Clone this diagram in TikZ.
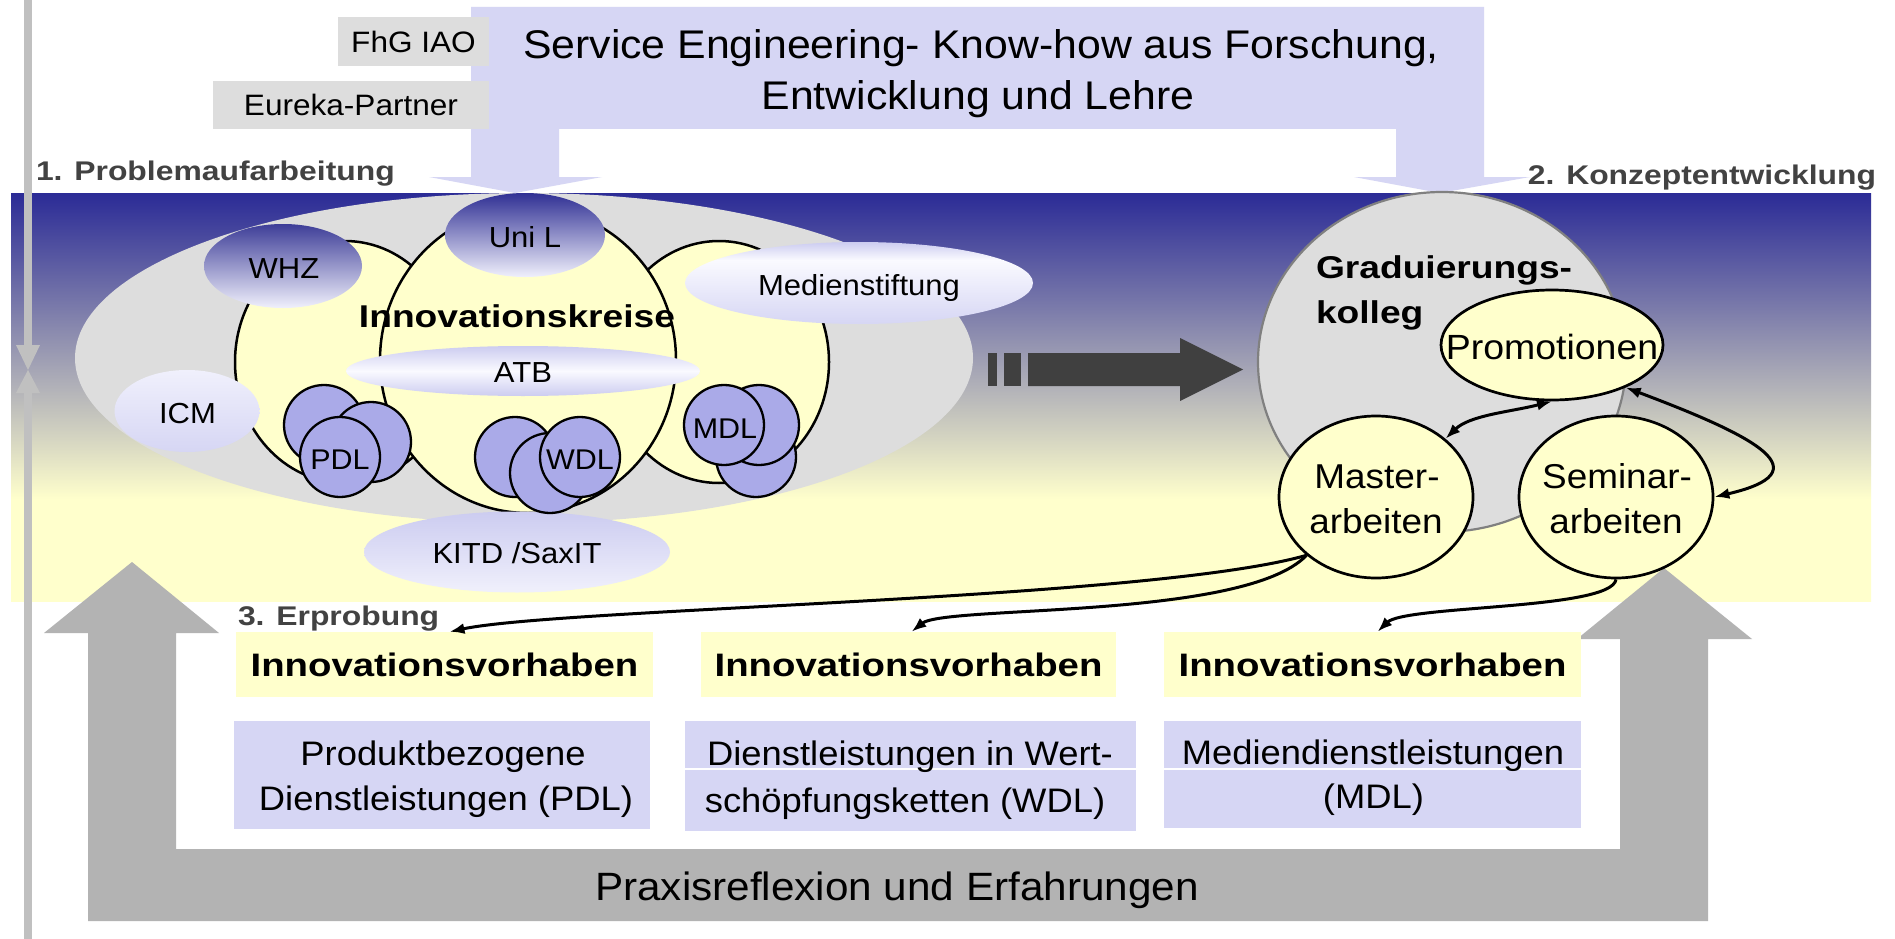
\documentclass[tikz,border=0pt]{standalone}
\usepackage{fontspec}
\setmainfont{Liberation Sans}[FakeStretch=1.07]
\newfontfamily\widefont{Liberation Sans}[FakeStretch=1.18]
\usetikzlibrary{shapes.geometric,arrows.meta}
\definecolor{lav}{RGB}{214,214,244}
\definecolor{lavA}{RGB}{204,204,240}
\definecolor{lavB}{RGB}{214,214,244}
\definecolor{whiteL}{RGB}{250,250,255}
\definecolor{satwhite}{RGB}{240,240,252}
\definecolor{satnavy}{RGB}{48,48,148}
\definecolor{satnavy2}{RGB}{62,62,152}
\definecolor{gry}{RGB}{221,221,221}
\definecolor{yel}{RGB}{255,255,204}
\definecolor{blu}{RGB}{170,170,232}
\definecolor{ugray}{RGB}{179,179,179}
\definecolor{lgray}{RGB}{192,192,192}
\definecolor{darkarr}{RGB}{64,64,64}
\definecolor{navy}{RGB}{43,43,150}
\definecolor{headgray}{RGB}{66,66,66}
\definecolor{circgray}{RGB}{128,128,128}
\pgfdeclareverticalshading{bandshade}{100bp}{color(0bp)=(yel); color(37.5bp)=(yel); color(75bp)=(navy); color(100bp)=(navy)}
\pgfdeclareverticalshading{medshade}{100bp}{color(0bp)=(lavB); color(25bp)=(lavB); color(64bp)=(whiteL); color(75bp)=(lavA); color(100bp)=(lavA)}
\pgfdeclareverticalshading{atbshade}{100bp}{color(0bp)=(lavA); color(25bp)=(lavA); color(50bp)=(whiteL); color(75bp)=(lavA); color(100bp)=(lavA)}
\newcommand\fsz[1]{\fontsize{#1pt}{#1pt}\selectfont}
\begin{document}
\begin{tikzpicture}[x=1pt,y=-1pt,
  txt/.style={inner sep=0pt, outer sep=0pt, text=black},
  satfont/.style={txt, font=\fsz{29}},
  smallc/.style={txt, font=\fsz{28.5}},
  headfont/.style={txt, text=headgray, font=\widefont\bfseries\fsz{27}},
  bigbold/.style={txt, font=\widefont\bfseries\fsz{31.5}},
  circfont/.style={txt, font=\fsz{34.5}},
  descfont/.style={txt, font=\fsz{34}},
  sat/.style={ellipse, inner sep=0pt, outer sep=0pt},
  yell/.style={ellipse, inner sep=0pt, fill=yel, draw=black, line width=2.5pt},
  bcirc/.style={circle, inner sep=0pt, minimum size=80pt, fill=blu, draw=black, line width=2.3pt},
  graybox/.style={rectangle, inner sep=0pt, fill=gry, font=\fsz{29.5}},
  ivbox/.style={rectangle, inner sep=0pt, fill=yel, minimum height=65pt, font=\widefont\bfseries\fsz{32.5}},
  dbox/.style={rectangle, inner sep=0pt, fill=lav},
  arr/.style={line width=3pt, -{Latex[length=15pt,width=11pt]}},
  darr/.style={line width=3pt, {Latex[length=15pt,width=11pt]}-{Latex[length=15pt,width=11pt]}}
]
\useasboundingbox (0,0) rectangle (1895,939);
\fill[white] (0,0) rectangle (1895,939);
% band
\fill[shading=bandshade] (11,193) rectangle (1871,601);
% left vertical line with double arrow
\fill[lgray] (24,0) rectangle (32,345);
\fill[lgray] (16,345) -- (40,345) -- (28,370) -- cycle;
\fill[lgray] (16,393) -- (40,393) -- (28,370) -- cycle;
\fill[lgray] (24,393) rectangle (32,939);
% top lavender box with two arrows
\fill[lav] (471,7) -- (1484,7) -- (1484,177) -- (1530,177) -- (1440,193) -- (1354,177) -- (1396,177) -- (1396,129) -- (559,129) -- (559,177) -- (602,177) -- (515,193) -- (429,177) -- (471,177) -- cycle;
\node[txt, font=\fsz{40}, anchor=base] (se1) at (981,59) {Service Engineering- Know-how aus Forschung,};
\node[txt, font=\fsz{40}, anchor=base] (se2) at (978,110) {Entwicklung und Lehre};
\node[graybox, minimum width=151pt, minimum height=49pt] (fhg) at (413.5,41.5) {FhG IAO};
\node[graybox, minimum width=276pt, minimum height=48pt] (eur) at (351,105) {Eureka-Partner};
% headings
\node[headfont, anchor=base west] (h1) at (36,180) {1. Problemaufarbeitung};
\node[headfont, anchor=base east] (h2) at (1876,184) {2. Konzeptentwicklung};
\node[headfont, anchor=base west] (h3) at (238,625) {3. Erprobung};
% innovation circles
\node[sat, minimum width=898pt, minimum height=330pt, fill=gry] (bige) at (524,358) {};
\node[yell, minimum width=220pt, minimum height=242pt] (ky1) at (345,362) {};
\node[yell, minimum width=220pt, minimum height=242pt] (ky3) at (719,362) {};
\node[yell, minimum width=296pt, minimum height=306pt] (ky2) at (528,360) {};
\node[sat, minimum width=160pt, minimum height=84pt, top color=satnavy, bottom color=satwhite] (unil) at (525,235) {};
\node[sat, minimum width=158pt, minimum height=84pt, top color=satnavy2, bottom color=satwhite] (whz) at (283,266) {};
\node[sat, minimum width=348pt, minimum height=82pt, shading=medshade] (med) at (859,283) {};
\node[sat, minimum width=354pt, minimum height=50pt, shading=atbshade] (atb) at (523,371) {};
\node[sat, minimum width=145pt, minimum height=82pt, top color=satwhite, bottom color=lavB] (icm) at (187,411) {};
\node[sat, minimum width=306pt, minimum height=81pt, top color=lavA, bottom color=satwhite] (kitd) at (517,552) {};
\node[satfont, anchor=base] (tunil) at (525,247) {Uni L};
\node[satfont, anchor=base] (twhz) at (284,278) {WHZ};
\node[satfont, anchor=base] (tmed) at (859,295) {Medienstiftung};
\node[satfont, anchor=base] (tatb) at (523,382) {ATB};
\node[satfont, anchor=base] (ticm) at (187.5,423) {ICM};
\node[satfont, anchor=base] (tkitd) at (517,563) {KITD /SaxIT};
% blue clusters
\node[bcirc] (p1) at (324,425) {};
\node[bcirc] (p2) at (371,442) {};
\node[bcirc] (p3) at (340,457) {};
\node[bcirc] (w1) at (515,457) {};
\node[bcirc] (w2) at (550,473) {};
\node[bcirc] (w3) at (580,457) {};
\node[bcirc] (m1) at (756,457) {};
\node[bcirc] (m2) at (759,425) {};
\node[bcirc] (m3) at (724,425) {};
\node[smallc, anchor=base] (tpdl) at (340,469) {PDL};
\node[smallc, anchor=base] (twdl) at (580,469) {WDL};
\node[smallc, anchor=base] (tmdl) at (725,438) {MDL};
\node[bigbold, anchor=base] (tik) at (517,327) {Innovationskreise};
% dark arrow
\fill[darkarr] (988,353) rectangle (997,386);
\fill[darkarr] (1004,353) rectangle (1021,386);
\fill[darkarr] (1028,353) -- (1180,353) -- (1180,338) -- (1243,369.5) -- (1180,401) -- (1180,386) -- (1028,386) -- cycle;
% Graduierungskolleg
\node[ellipse, inner sep=0pt, minimum width=368pt, minimum height=340pt, fill=gry, draw=circgray, line width=2.2pt] (grad) at (1442,362) {};
\node[bigbold, anchor=base west] (tg1) at (1316,278) {Graduierungs-};
\node[bigbold, anchor=base west] (tg2) at (1316,323) {kolleg};
% gray U arrow
\fill[ugray] (88,633) -- (44,633) -- (132,562) -- (219,633) -- (176,633) -- (176,849) -- (1620,849) -- (1620,639) -- (1577,639) -- (1664,568) -- (1752,639) -- (1708,639) -- (1708,921) -- (88,921) -- cycle;
\node[txt, font=\fsz{39.5}, anchor=base] (prax) at (897,900) {Praxisreflexion und Erfahrungen};
% Promotionen, Master, Seminar
\node[yell, line width=2.7pt, minimum width=222pt, minimum height=110pt] (prom) at (1552,345) {};
\node[yell, line width=2.7pt, minimum width=194pt, minimum height=162pt] (mast) at (1376,497) {};
\node[yell, line width=2.7pt, minimum width=194pt, minimum height=162pt] (sem) at (1616,497) {};
\node[txt, font=\fsz{35}, anchor=base] (tprom) at (1552,359) {Promotionen};
\node[circfont, anchor=base] (tm1) at (1377,488) {Master-};
\node[circfont, anchor=base] (tm2) at (1376,533) {arbeiten};
\node[circfont, anchor=base] (ts1) at (1617,488) {Seminar-};
\node[circfont, anchor=base] (ts2) at (1616,533) {arbeiten};
% boxes
\node[ivbox, minimum width=417pt] (iv1) at (444.5,664.5) {Innovationsvorhaben};
\node[ivbox, minimum width=415pt] (iv2) at (908.5,664.5) {Innovationsvorhaben};
\node[ivbox, minimum width=417pt] (iv3) at (1372.5,664.5) {Innovationsvorhaben};
\node[dbox, minimum width=416pt, minimum height=108pt] (d1) at (442,775) {};
\node[dbox, minimum width=451pt, minimum height=47pt] (d2a) at (910.5,744.5) {};
\node[dbox, minimum width=451pt, minimum height=61pt] (d2b) at (910.5,800.5) {};
\node[dbox, minimum width=417pt, minimum height=47pt] (d3a) at (1372.5,744.5) {};
\node[dbox, minimum width=417pt, minimum height=58pt] (d3b) at (1372.5,799) {};
\node[descfont, anchor=base] (td11) at (443,765) {Produktbezogene};
\node[descfont, anchor=base] (td12) at (446,810) {Dienstleistungen (PDL)};
\node[descfont, anchor=base] (td21) at (910,765) {Dienstleistungen in Wert-};
\node[descfont, anchor=base] (td22) at (905,812) {schöpfungsketten (WDL)};
\node[descfont, anchor=base] (td31) at (1373,764) {Mediendienstleistungen};
\node[descfont, anchor=base] (td32) at (1373.5,808) {(MDL)};
% connectors
\draw[darr] (mast.40) .. controls (1470,415) and (1510,412) .. (prom.south);
\draw[darr] (prom.-30) .. controls (1760,438) and (1822,472) .. (sem.east);
\draw[arr] (mast.220) .. controls (1150,600) and (560,608) .. ([xshift=5pt]iv1.north);
\draw[arr] (mast.220) .. controls (1245,620) and (945,605) .. ([xshift=3pt]iv2.north);
\draw[arr] (sem.south) .. controls (1612,610) and (1405,605) .. ([xshift=5pt]iv3.north);
\end{tikzpicture}
\end{document}
